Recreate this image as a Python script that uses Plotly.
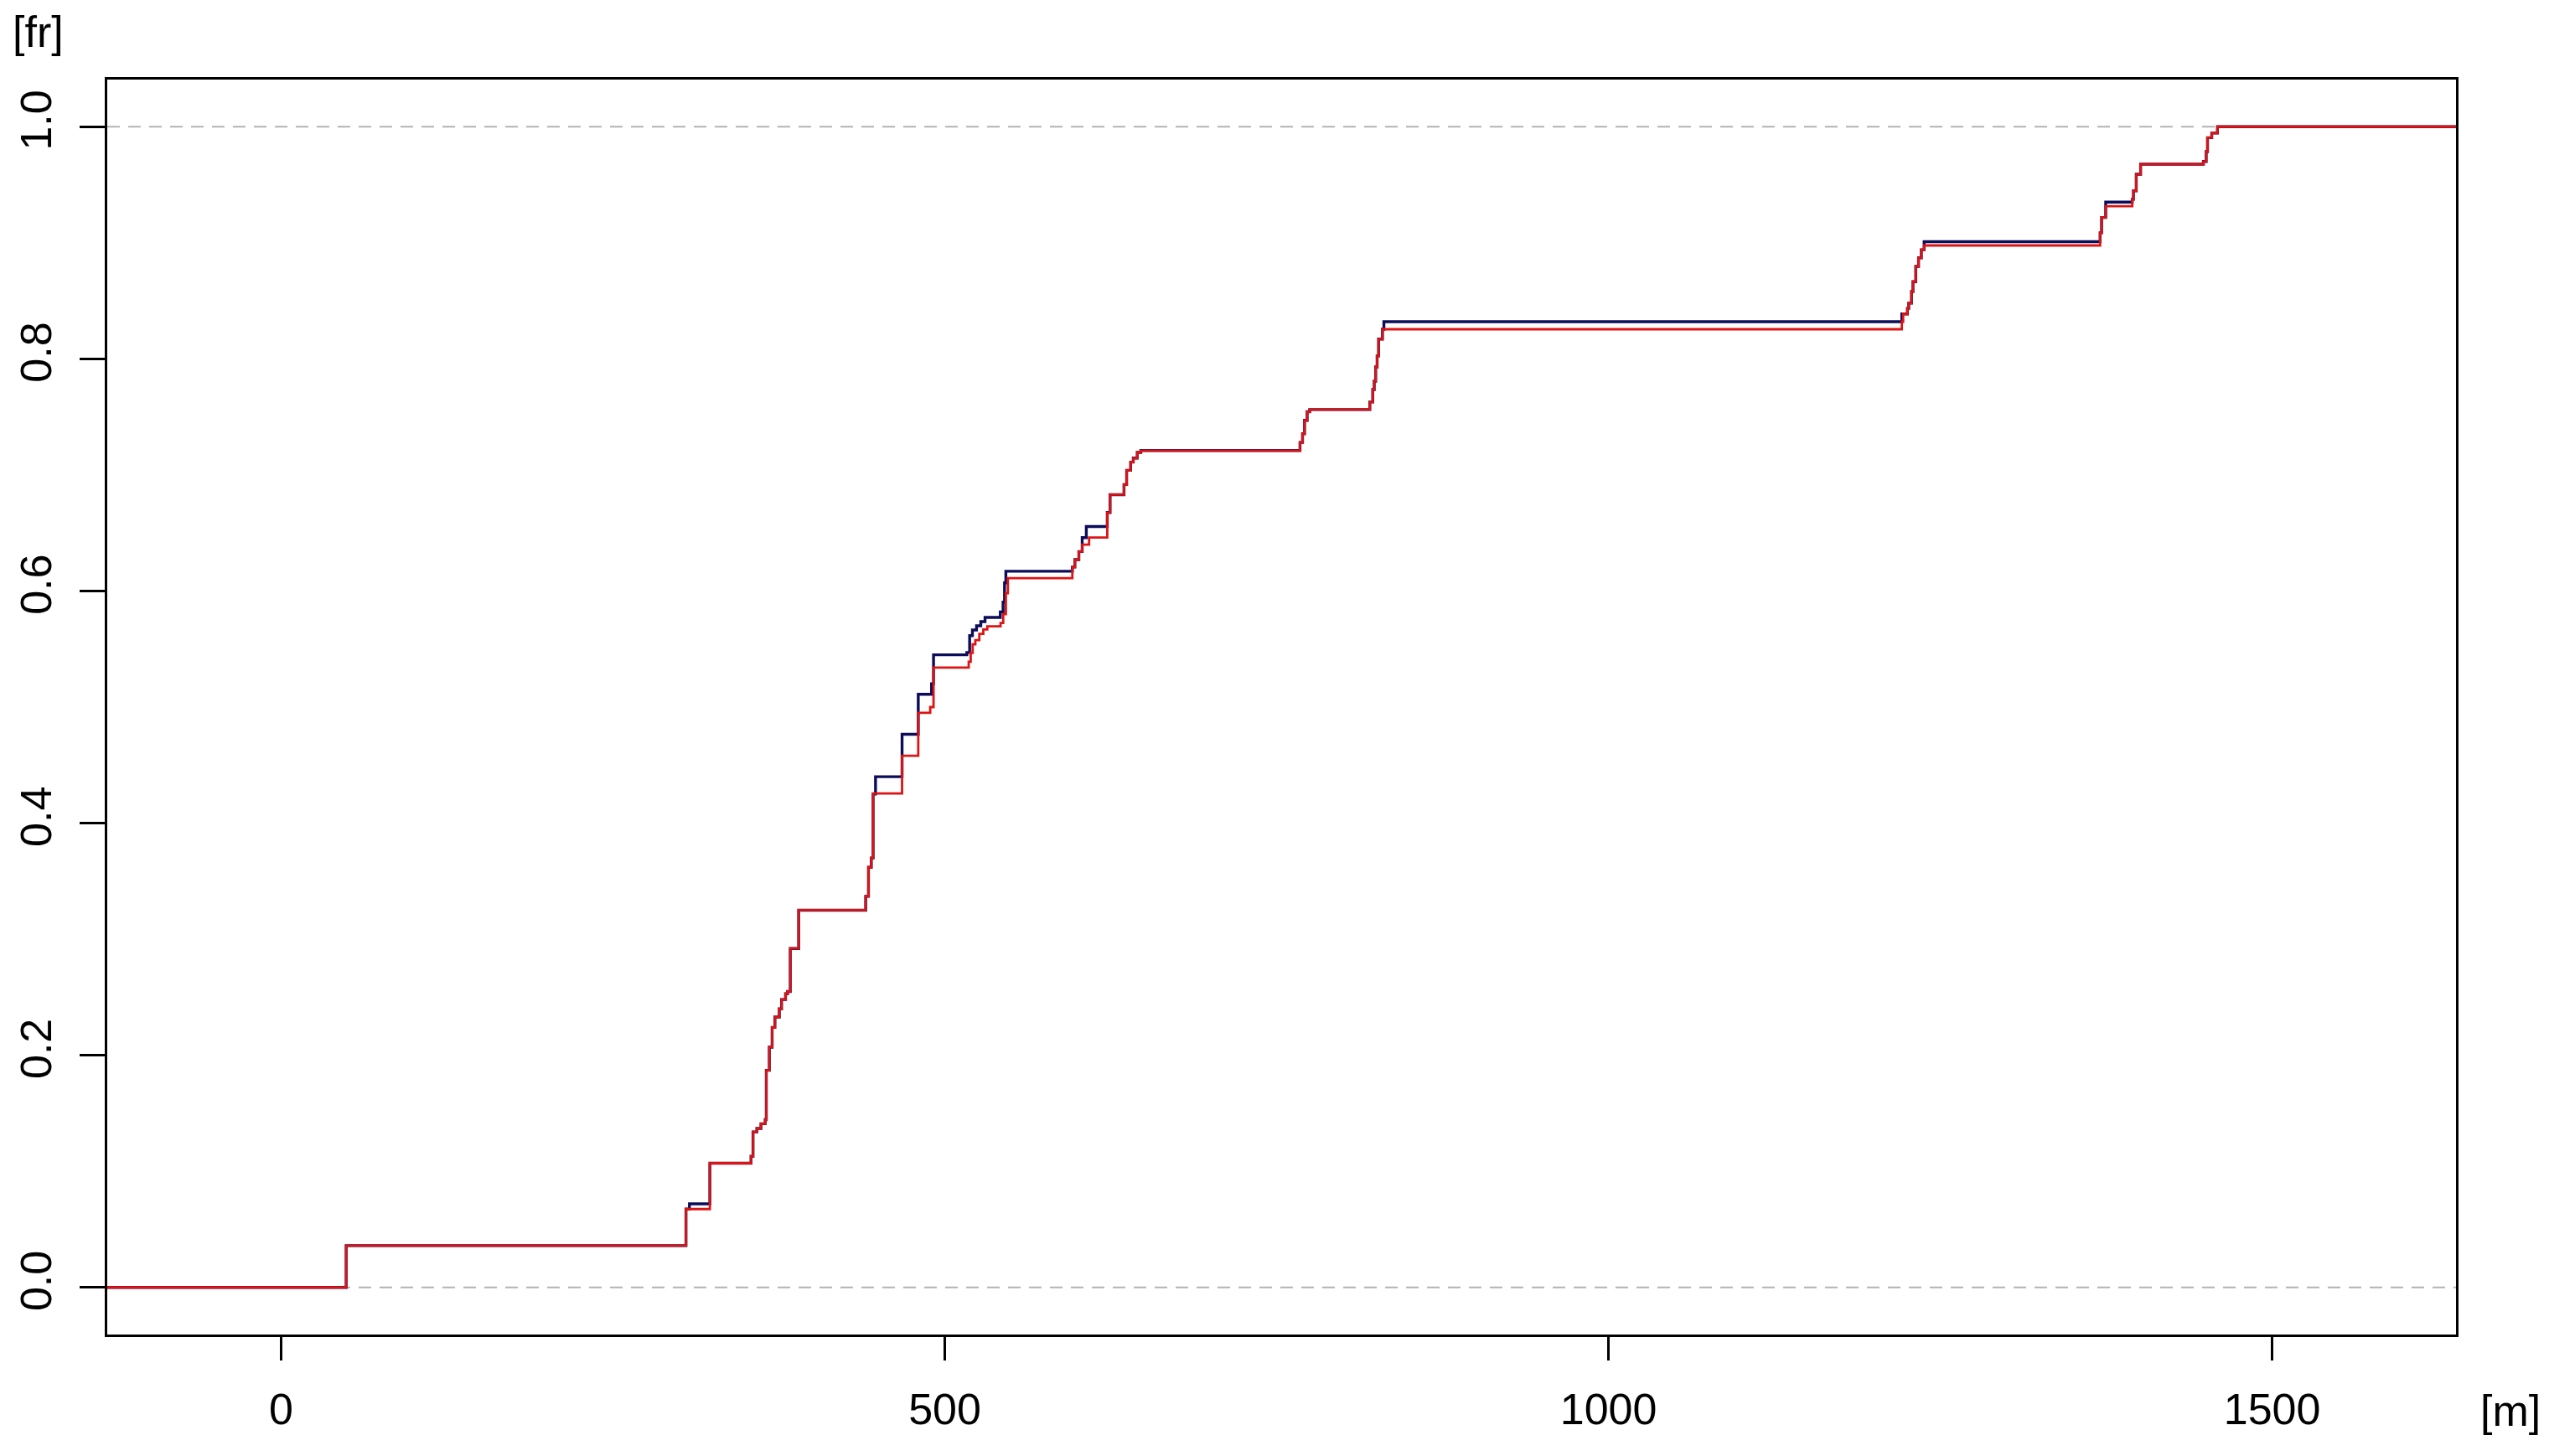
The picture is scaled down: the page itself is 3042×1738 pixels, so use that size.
import plotly.graph_objects as go

# Axis limits (data units)
x_range = [-131.0, 1638.5]
y_range = [-0.0406, 1.0406]

# ECDF 1 (dark blue) : step locations and level after each step
blue_x = [-131.0, 49.0, 305.0, 307.6, 323.0, 354.0, 355.5, 358.4, 361.5, 364.7, 365.5,
          367.8, 369.9, 372.0, 375.3, 377.0, 380.0, 381.5, 383.6, 389.9,
          440.4, 442.5, 444.6, 446.0, 447.8, 467.8, 480.0, 490.0, 491.5,
          516.6, 518.7, 520.8, 523.9, 527.1, 530.3, 541.8, 543.9, 545.0, 546.0,
          596.1, 598.0, 601.0, 603.5, 606.6, 622.4, 624.5, 635.0, 637.0, 640.0, 642.0, 645.0, 647.7,
          767.6, 769.5, 771.0, 773.0, 774.9, 820.2, 822.4, 823.5, 824.6, 825.7, 826.8, 829.7, 830.8,
          1221.0, 1222.0, 1225.2, 1226.2, 1228.3, 1229.4, 1231.5, 1233.6, 1235.7, 1237.8,
          1370.4, 1371.5, 1374.6, 1394.6, 1395.5, 1397.6, 1400.9,
          1448.2, 1450.3, 1451.3, 1454.5, 1458.8, 1638.5]
blue_y = [0.0, 0.036, 0.0675, 0.072, 0.107, 0.113, 0.134, 0.137, 0.141, 0.1445, 0.187,
          0.207, 0.224, 0.233, 0.240, 0.248, 0.253, 0.255, 0.292, 0.325,
          0.337, 0.362, 0.370, 0.425, 0.440, 0.4765, 0.511, 0.520, 0.545,
          0.547, 0.5615, 0.5664, 0.570, 0.5736, 0.5772, 0.582, 0.5905, 0.607, 0.617,
          0.6206, 0.627, 0.634, 0.646, 0.6555, 0.6676, 0.683, 0.6917, 0.704, 0.711, 0.7145, 0.7194, 0.721,
          0.728, 0.7355, 0.747, 0.7544, 0.7563, 0.7628, 0.7736, 0.7808, 0.793, 0.8025, 0.817, 0.8255, 0.832,
          0.8387, 0.8387, 0.8435, 0.848, 0.858, 0.8665, 0.8797, 0.887, 0.894, 0.9009,
          0.9086, 0.9218, 0.935, 0.9375, 0.9448, 0.959, 0.9677,
          0.970, 0.9785, 0.9905, 0.9945, 1.0, 1.0]

# ECDF 2 (red)
red_x = [-131.0, 49.0, 305.0, 323.0, 354.0, 355.5, 358.4, 361.5, 364.7, 365.5,
         367.8, 369.9, 372.0, 375.3, 377.0, 380.0, 381.5, 383.6, 389.9,
         440.4, 442.5, 444.6, 446.0, 467.8, 480.0, 489.0, 491.5,
         518.0, 519.5, 521.0, 523.0, 526.0, 529.0, 532.0, 542.0, 544.0, 546.0, 547.5,
         596.1, 598.0, 601.0, 603.5, 608.7, 622.4, 624.5, 635.0, 637.0, 640.0, 642.0, 645.0, 647.7,
         767.6, 769.5, 771.0, 773.0, 774.9, 820.2, 822.4, 823.5, 824.6, 825.7, 826.8, 829.7,
         1221.0, 1222.0, 1225.2, 1226.2, 1228.3, 1229.4, 1231.5, 1233.6, 1235.7, 1237.8,
         1370.4, 1371.5, 1374.6, 1394.6, 1395.5, 1397.6, 1400.9,
         1448.2, 1450.3, 1451.3, 1454.5, 1458.8, 1638.5]
red_y = [0.0, 0.036, 0.0675, 0.107, 0.113, 0.134, 0.137, 0.141, 0.1445, 0.187,
         0.207, 0.224, 0.233, 0.240, 0.248, 0.253, 0.255, 0.292, 0.325,
         0.337, 0.362, 0.370, 0.4256, 0.458, 0.495, 0.500, 0.534,
         0.539, 0.5466, 0.554, 0.5577, 0.563, 0.5669, 0.5695, 0.5725, 0.580, 0.598, 0.611,
         0.6206, 0.627, 0.634, 0.640, 0.646, 0.6676, 0.683, 0.6917, 0.704, 0.711, 0.7145, 0.7194, 0.721,
         0.728, 0.7355, 0.747, 0.7544, 0.7563, 0.7628, 0.7736, 0.7808, 0.793, 0.8025, 0.817, 0.8255,
         0.8320, 0.8387, 0.8435, 0.848, 0.858, 0.8665, 0.8797, 0.887, 0.894, 0.8977,
         0.9086, 0.9218, 0.9315, 0.9375, 0.9448, 0.959, 0.9677,
         0.970, 0.9785, 0.9905, 0.9945, 1.0, 1.0]

x_ticks = [0, 500, 1000, 1500]
y_ticks = [0.0, 0.2, 0.4, 0.6, 0.8, 1.0]
y_ticklabels = ["0.0", "0.2", "0.4", "0.6", "0.8", "1.0"]
ref_levels = [0.0, 1.0]

FONT = "Liberation Sans, Arial, sans-serif"

fig = go.Figure()
fig.add_trace(go.Scatter(x=blue_x, y=blue_y, mode="lines", line_shape="hv",
                         line=dict(color="#0c0c5a", width=3.4), showlegend=False))
fig.add_trace(go.Scatter(x=red_x, y=red_y, mode="lines", line_shape="hv",
                         line=dict(color="#dd1414", width=2.8), showlegend=False))

for lv in ref_levels:
    fig.add_shape(type="line", xref="paper", x0=0, x1=1, yref="y", y0=lv, y1=lv,
                  line=dict(color="#b3b3b3", width=2, dash="15px,10px"), layer="below")

# page body has an 8px default margin, so the figure is 8px smaller and margins shifted
fig.update_layout(
    width=3034, height=1730,
    margin=dict(l=120, r=111, t=87, b=145, autoexpand=False),
    paper_bgcolor="white", plot_bgcolor="white",
    font=dict(family=FONT, size=52, color="black"),
    xaxis=dict(range=x_range, tickvals=x_ticks, ticks="outside", ticklen=28, tickwidth=2.5,
               tickcolor="black", showline=True, mirror=True, linecolor="black", linewidth=3,
               showgrid=False, zeroline=False, ticklabelstandoff=14, automargin=False,
               tickfont=dict(family=FONT, size=52, color="black")),
    yaxis=dict(range=y_range, tickvals=y_ticks, ticktext=y_ticklabels, ticks="outside",
               ticklen=30, tickwidth=2.5, tickcolor="black", showline=True, mirror=True,
               linecolor="black", linewidth=3, showgrid=False, zeroline=False,
               tickangle=-90, ticklabelstandoff=13, automargin=False,
               tickfont=dict(family=FONT, size=52, color="black")),
    annotations=[
        dict(text="[fr]", xref="paper", yref="paper", x=-0.0293, y=1.0380,
             showarrow=False, font=dict(family=FONT, size=52, color="black"),
             xanchor="center", yanchor="middle"),
        dict(text="[m]", xref="paper", yref="paper", x=1.0232, y=-0.0610,
             showarrow=False, font=dict(family=FONT, size=52, color="black"),
             xanchor="center", yanchor="middle"),
    ],
)

fig.write_html("out.html")
